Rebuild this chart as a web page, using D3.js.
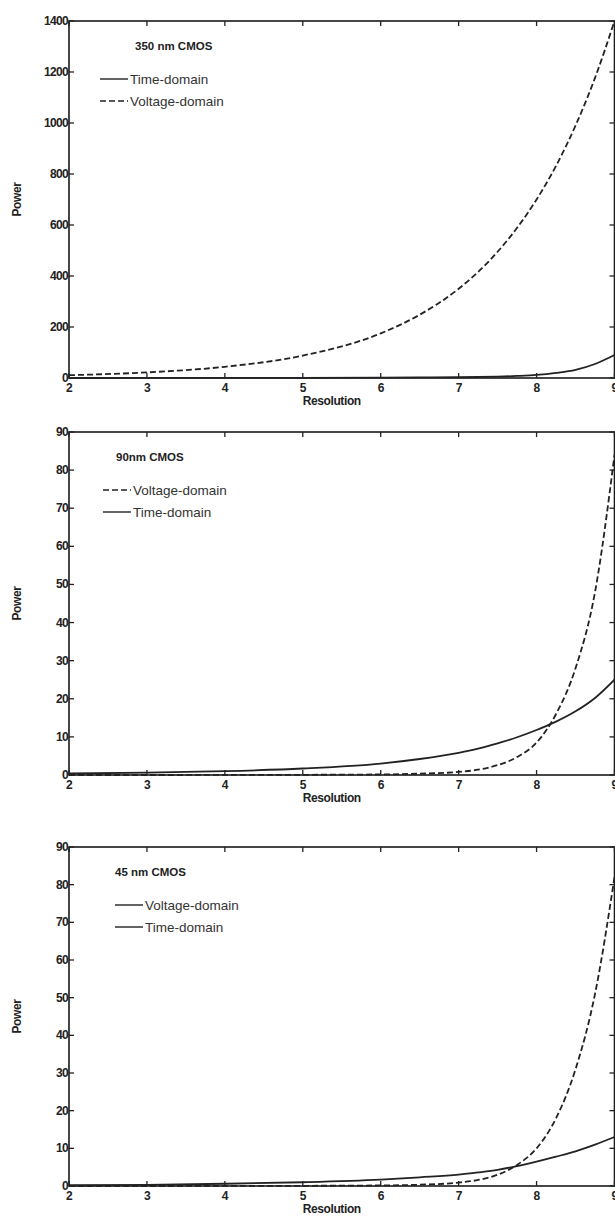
<!DOCTYPE html>
<html>
<head>
<meta charset="utf-8">
<script src="https://cdn.jsdelivr.net/npm/d3@7"></script>
<style>
  body { margin: 0; background: #fff; }
  svg text { font-family: "Liberation Sans", Arial, sans-serif; fill: #222; }
  .tick-label { font-size: 12px; font-weight: bold; letter-spacing: -0.7px; }
  .ax-title { font-size: 12px; font-weight: bold; letter-spacing: -0.4px; }
  .legend { font-size: 13.5px; fill: #333; }
  .title { font-size: 11.5px; font-weight: bold; }
</style>
</head>
<body>
<div id="chart"></div>
<script>
// resolution (bits) sample points
var resolution = [2, 3, 4, 5, 6, 6.5, 7, 7.25, 7.5, 7.75, 8, 8.25, 8.5, 8.75, 9];
var xTicks = [2, 3, 4, 5, 6, 7, 8, 9];

// 350 nm CMOS
var volt350 = [11, 22, 44, 88, 175, 248, 350, 416, 495, 589, 700, 832, 990, 1177, 1400];
var time350 = [0.1, 0.2, 0.4, 0.8, 1.5, 2.2, 3, 4, 5.5, 8, 12, 20, 32, 55, 90];
var yTicks350 = [0, 200, 400, 600, 800, 1000, 1200, 1400];

// 90 nm CMOS
var volt90 = [0, 0, 0.02, 0.05, 0.15, 0.35, 0.8, 1.4, 2.6, 4.7, 8.5, 16, 28, 48, 84];
var time90 = [0.4, 0.6, 1.0, 1.7, 3.0, 4.2, 5.8, 6.9, 8.3, 9.9, 11.8, 14, 16.7, 20.2, 25];

// 45 nm CMOS
var volt45 = [0, 0, 0.02, 0.05, 0.15, 0.35, 0.9, 1.6, 3, 5.6, 10, 18, 31, 51, 82];
var time45 = [0.2, 0.3, 0.6, 1.0, 1.7, 2.3, 3.0, 3.6, 4.3, 5.3, 6.5, 7.8, 9.2, 11, 13];
var yTicks90 = [0, 10, 20, 30, 40, 50, 60, 70, 80, 90];

var W = 615, H = 1222;
var svg = d3.select("#chart").append("svg")
    .attr("width", W)
    .attr("height", H);

var x = d3.scaleLinear().domain([2, 9]).range([69, 614.5]);

function drawPanel(top, bottom, yMax, yTicks, title, titleX, legendX, entries) {
    var y = d3.scaleLinear().domain([0, yMax]).range([bottom, top]);
    var g = svg.append("g");

    // box
    g.append("rect")
        .attr("x", x(2)).attr("y", top)
        .attr("width", x(9) - x(2)).attr("height", bottom - top)
        .style("fill", "none").style("stroke", "#1a1a1a").style("stroke-width", 1.6);

    // inward ticks on all sides
    xTicks.forEach(function (t) {
        g.append("line").attr("x1", x(t)).attr("x2", x(t))
            .attr("y1", bottom).attr("y2", bottom - 5)
            .style("stroke", "#222").style("stroke-width", 1.3);
        g.append("line").attr("x1", x(t)).attr("x2", x(t))
            .attr("y1", top).attr("y2", top + 5)
            .style("stroke", "#222").style("stroke-width", 1.3);
        g.append("text").attr("class", "tick-label")
            .attr("x", x(t)).attr("y", bottom + 14)
            .attr("text-anchor", "middle").text(t);
    });
    yTicks.forEach(function (t) {
        g.append("line").attr("x1", x(2)).attr("x2", x(2) + 5)
            .attr("y1", y(t)).attr("y2", y(t))
            .style("stroke", "#222").style("stroke-width", 1.3);
        g.append("line").attr("x1", x(9)).attr("x2", x(9) - 5)
            .attr("y1", y(t)).attr("y2", y(t))
            .style("stroke", "#222").style("stroke-width", 1.3);
        g.append("text").attr("class", "tick-label")
            .attr("x", x(2) - 1).attr("y", y(t) + 4)
            .attr("text-anchor", "end").text(t);
    });

    g.append("text").attr("class", "ax-title")
        .attr("x", (x(2) + x(9)) / 2 - 10).attr("y", bottom + 27)
        .attr("text-anchor", "middle").text("Resolution");
    g.append("text").attr("class", "ax-title")
        .attr("transform", "translate(21," + ((top + bottom) / 2) + ") rotate(-90)")
        .attr("text-anchor", "middle").text("Power");

    var line = d3.line()
        .x(function (d) { return x(d[0]); })
        .y(function (d) { return y(d[1]); })
        .curve(d3.curveMonotoneX);

    entries.forEach(function (e) {
        g.append("path")
            .datum(d3.zip(resolution, e.values))
            .attr("d", line)
            .style("fill", "none")
            .style("stroke", "#222")
            .style("stroke-width", 1.8)
            .style("stroke-dasharray", e.dash ? "6,3" : null);
    });

    // title + legend
    g.append("text").attr("class", "title")
        .attr("x", titleX).attr("y", top + 29).text(title);
    entries.forEach(function (e, i) {
        var ly = top + 58 + i * 22;
        g.append("line")
            .attr("x1", legendX).attr("x2", legendX + 28)
            .attr("y1", ly).attr("y2", ly)
            .style("stroke", "#222").style("stroke-width", 1.4)
            .style("stroke-dasharray", e.legendDash ? "6,3" : null);
        g.append("text").attr("class", "legend")
            .attr("x", legendX + 30).attr("y", ly + 5).text(e.name);
    });
}

drawPanel(21, 378, 1400, yTicks350, "350 nm CMOS", 135, 100, [
    { name: "Time-domain", values: time350, dash: false, legendDash: false },
    { name: "Voltage-domain", values: volt350, dash: true, legendDash: true }
]);

drawPanel(432, 775, 90, yTicks90, "90nm CMOS", 116, 103, [
    { name: "Voltage-domain", values: volt90, dash: true, legendDash: true },
    { name: "Time-domain", values: time90, dash: false, legendDash: false }
]);

drawPanel(847, 1186, 90, yTicks90, "45 nm CMOS", 115, 115, [
    { name: "Voltage-domain", values: volt45, dash: true, legendDash: false },
    { name: "Time-domain", values: time45, dash: false, legendDash: false }
]);
</script>
</body>
</html>
